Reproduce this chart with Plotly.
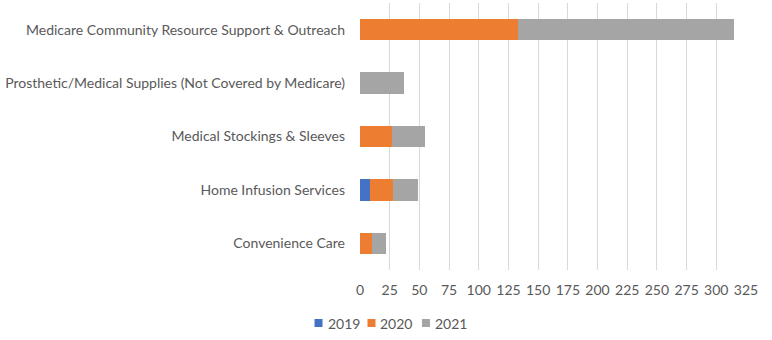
import plotly.graph_objects as go

categories = [
    "Medicare Community Resource Support & Outreach",
    "Prosthetic/Medical Supplies (Not Covered by Medicare)",
    "Medical Stockings & Sleeves",
    "Home Infusion Services",
    "Convenience Care",
]
years = ["2019", "2020", "2021"]
v2019 = [0, 0, 0, 8, 0]
v2020 = [133, 0, 27, 20, 10]
v2021 = [182, 37, 28, 21, 12]
colors = ["#4472C4", "#ED7D31", "#A5A5A5"]
tick_vals = list(range(0, 326, 25))

W, H = 772, 340
L, R, T, B = 359.5, 26.4, 3, 70
pw, ph = W - L - R, H - T - B


def px(x):
    return (x - L) / pw


def py(y):
    return (H - B - y) / ph


fig = go.Figure()
for name, vals, c in zip(years, [v2019, v2020, v2021], colors):
    fig.add_trace(go.Bar(y=categories, x=vals, name=name, orientation="h",
                         marker=dict(color=c, line=dict(width=0))))

font = dict(family="Lato, Open Sans, sans-serif", size=14, color="#595959")

# custom compact legend (Excel style)
legend_x = [314, 367, 421.5]
for name, c, lx in zip(years, colors, legend_x):
    fig.add_shape(type="rect", xref="paper", yref="paper",
                  x0=px(lx), x1=px(lx + 8), y0=py(327), y1=py(319),
                  fillcolor=c, line=dict(width=0))
    fig.add_annotation(xref="paper", yref="paper", x=px(lx + 11), y=py(323),
                       text=name, showarrow=False, xanchor="left",
                       yanchor="middle", font=font)

fig.update_layout(
    barmode="stack",
    bargap=0.6,
    width=W, height=H,
    margin=dict(l=L, r=R, t=T, b=B),
    paper_bgcolor="white", plot_bgcolor="white",
    font=font,
    showlegend=False,
    xaxis=dict(range=[0, 325], tickvals=tick_vals, showgrid=True,
               gridcolor="#D9D9D9", gridwidth=1, zeroline=False,
               showline=False, ticks="", ticklabelstandoff=10),
    yaxis=dict(categoryorder="array", categoryarray=categories[::-1],
               showgrid=False, zeroline=False, showline=False, ticks="",
               ticklabelstandoff=14),
)
fig.write_html("out.html")
